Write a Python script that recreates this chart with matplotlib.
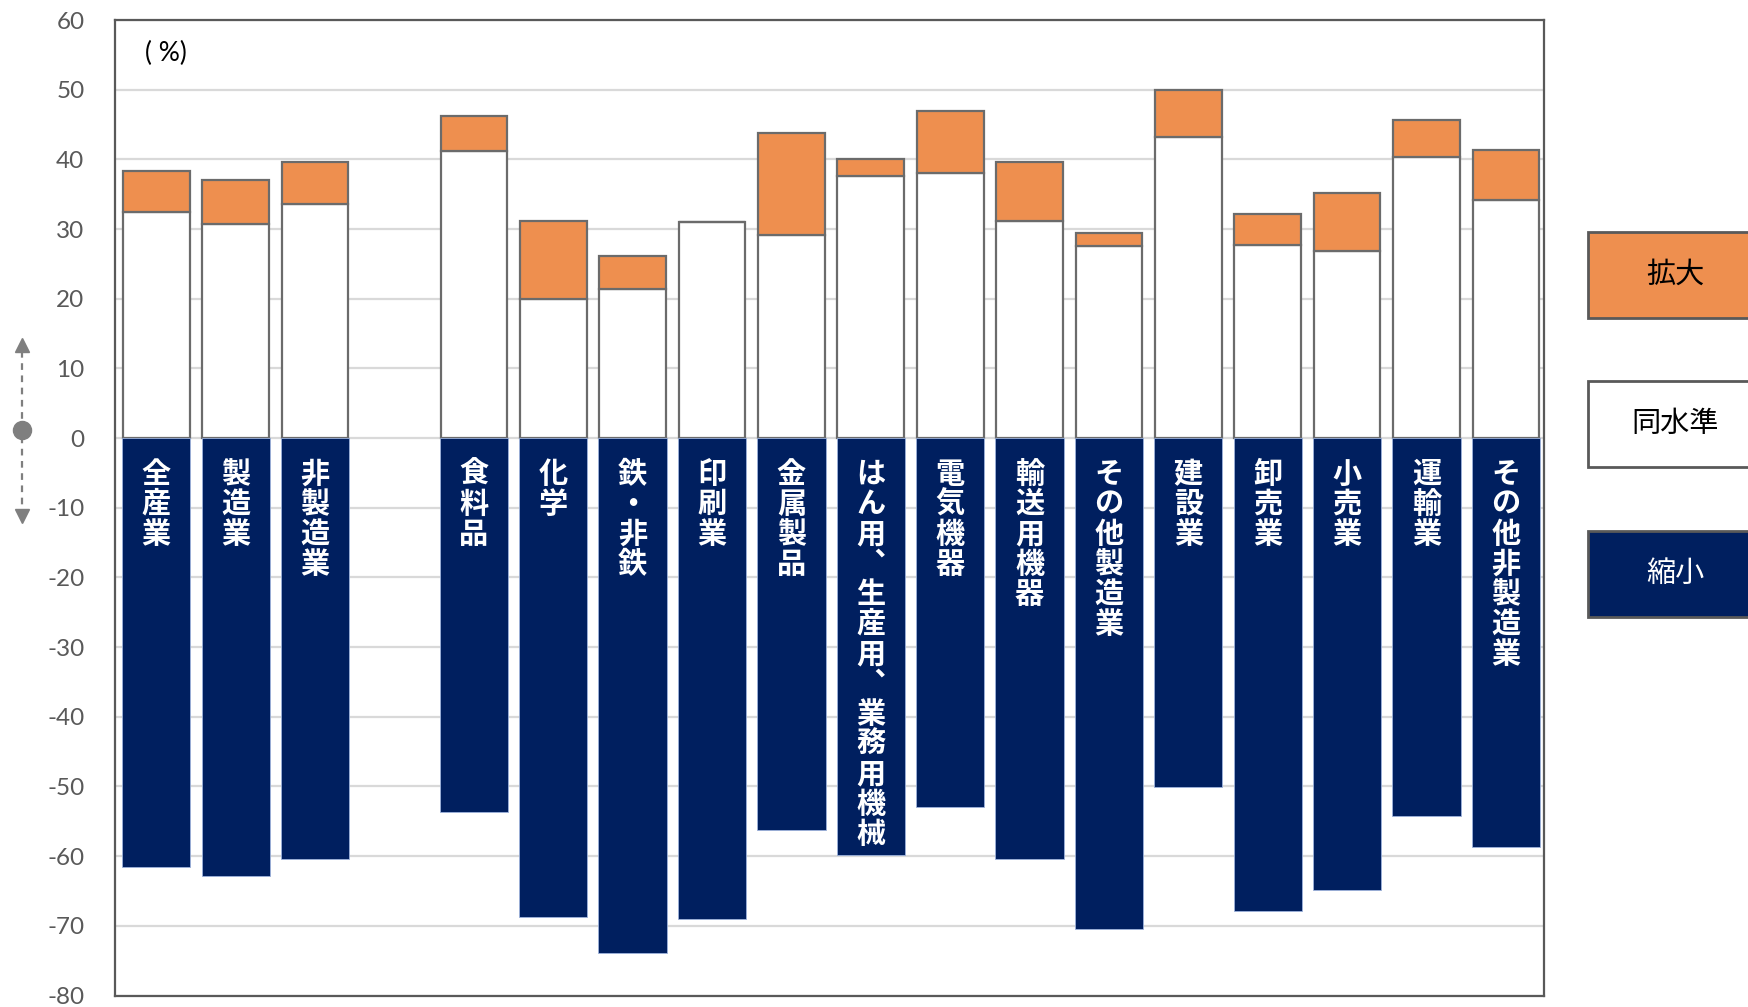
import matplotlib.pyplot as plt
import matplotlib.transforms as mtransforms
from matplotlib.patches import Rectangle

plt.rcParams['font.family'] = ['Lato', 'Noto Sans CJK JP', 'DejaVu Sans']
plt.rcParams['axes.unicode_minus'] = False

# 業種（4番目の枠は空き）
categories = ['全産業', '製造業', '非製造業', '食料品', '化学', '鉄・非鉄', '印刷業', '金属製品',
              'はん用、生産用、業務用機械', '電気機器', '輸送用機器', 'その他製造業',
              '建設業', '卸売業', '小売業', '運輸業', 'その他非製造業']
slots = [0, 1, 2, 4, 5, 6, 7, 8, 9, 10, 11, 12, 13, 14, 15, 16, 17]

# 同水準 / 拡大 / 縮小 (%)
same_level = [32.4, 30.7, 33.6, 41.2, 19.9, 21.4, 31.0, 29.2, 37.6, 38.1, 31.2, 27.5,
              43.2, 27.7, 26.8, 40.3, 34.2]
expand = [6.0, 6.4, 6.0, 5.0, 11.3, 4.7, 0.0, 14.6, 2.4, 8.8, 8.4, 2.0,
          6.7, 4.5, 8.4, 5.4, 7.1]
shrink = [-61.5, -62.8, -60.4, -53.7, -68.8, -73.9, -69.0, -56.2, -59.9, -53.0, -60.4, -70.4,
          -50.1, -67.8, -64.8, -54.3, -58.7]

legend_labels = ['拡大', '同水準', '縮小']
yticks = list(range(-80, 61, 10))

COLORS = {'expand': '#EE8F4F', 'same': '#FFFFFF', 'shrink': '#001F5F',
          'edge': '#6B6B6B', 'grid': '#D9D9D9', 'tick': '#595959'}

fig = plt.figure(figsize=(17.48, 10.07), dpi=100)
ax = fig.add_axes([0.0658, 0.0114, 0.8175, 0.9687])

w = 0.84
ax.bar(slots, same_level, width=w, color=COLORS['same'], edgecolor=COLORS['edge'], linewidth=1.6, zorder=3)
ax.bar(slots, expand, width=w, bottom=same_level, color=COLORS['expand'],
       edgecolor=COLORS['edge'], linewidth=1.6, zorder=3)
ax.bar(slots, shrink, width=w + 0.02, color=COLORS['shrink'], edgecolor='#9DB3DC', linewidth=0.6, zorder=3)

# 縦書きラベル
for x, name in zip(slots, categories):
    vert = '\n'.join(name.replace('、', '︑'))
    ax.text(x, -3.0, vert, ha='center', va='top', color='white', fontsize=21, fontweight='bold',
            family=['Noto Sans CJK JP'], linespacing=1.0, zorder=4)

ax.set_xlim(-0.52, 17.48)
ax.set_ylim(-80, 60)
ax.set_yticks(yticks)
ax.set_xticks([])
ax.yaxis.grid(True, color=COLORS['grid'], linewidth=1.6, zorder=0)
ax.tick_params(axis='y', length=0, pad=22, labelsize=17.5, labelcolor=COLORS['tick'])
for s in ax.spines.values():
    s.set_color('#595959')
    s.set_linewidth(1.6)

ax.text(0.021, 0.966, '( %)', transform=ax.transAxes, fontsize=19, color='black', va='center')

# 左側の矢印
trans = mtransforms.blended_transform_factory(fig.transFigure, ax.transData)
ax.plot([0.0126, 0.0126], [12.5, -10.5], ls=(0, (3, 2.5)), color='#7F7F7F', lw=1.6,
        transform=trans, clip_on=False)
ax.plot(0.0126, 13.4, marker='^', ms=10, color='#7F7F7F', transform=trans, clip_on=False)
ax.plot(0.0126, -11.2, marker='v', ms=10, color='#7F7F7F', transform=trans, clip_on=False)
ax.plot(0.0126, 1.1, marker='o', ms=13, color='#7F7F7F', transform=trans, clip_on=False)

# 凡例ボックス
box_colors = [COLORS['expand'], COLORS['same'], COLORS['shrink']]
text_colors = ['black', 'black', 'white']
box_tops = [232, 381, 531]
box_h = 86
for lab, fc, tc, top in zip(legend_labels, box_colors, text_colors, box_tops):
    y0 = 1 - (top + box_h) / 1007
    fig.add_artist(Rectangle((1588 / 1748, y0), 0.12, box_h / 1007, transform=fig.transFigure,
                             facecolor=fc, edgecolor='#595959', linewidth=2))
    fig.text(1675 / 1748, y0 + box_h / 1007 / 2, lab, ha='center', va='center', fontsize=21,
             color=tc, family=['Noto Sans CJK JP'])

fig.savefig('out.png', dpi=100)
